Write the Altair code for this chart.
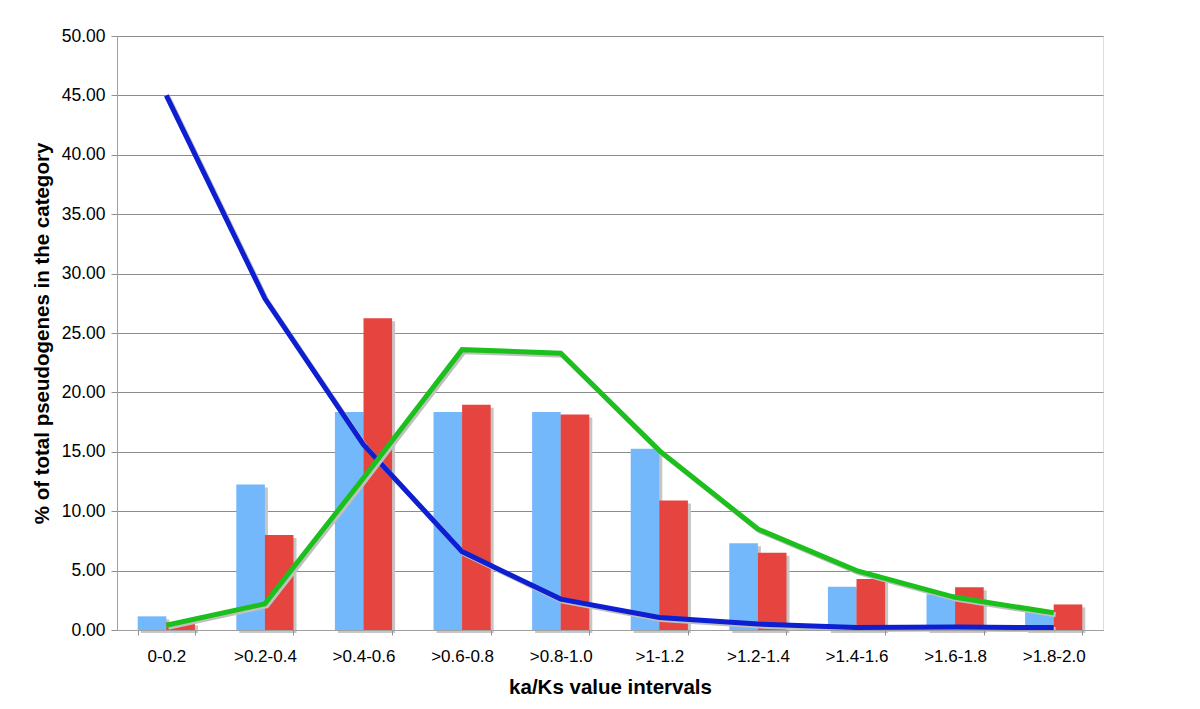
import altair as alt
import pandas as pd

categories = [
    "0-0.2", ">0.2-0.4", ">0.4-0.6", ">0.6-0.8", ">0.8-1.0",
    ">1-1.2", ">1.2-1.4", ">1.4-1.6", ">1.6-1.8", ">1.8-2.0",
]
blue_bars = [1.15, 12.25, 18.35, 18.35, 18.35, 15.25, 7.3, 3.65, 3.0, 1.6]
red_bars = [0.65, 8.0, 26.25, 18.95, 18.15, 10.9, 6.5, 4.3, 3.6, 2.15]
blue_line = [45.0, 27.9, 15.6, 6.6, 2.6, 1.05, 0.5, 0.22, 0.25, 0.2]
green_line = [0.4, 2.2, 12.8, 23.6, 23.3, 15.1, 8.5, 5.0, 2.75, 1.45]

bars_df = pd.DataFrame({
    "interval": categories * 2,
    "series": ["A"] * len(categories) + ["B"] * len(categories),
    "value": blue_bars + red_bars,
})
blue_df = pd.DataFrame({"interval": categories, "value": blue_line})
green_df = pd.DataFrame({"interval": categories, "value": green_line})

FONT = "Liberation Sans"

x_enc = alt.X(
    "interval:N",
    sort=categories,
    scale=alt.Scale(paddingInner=0.42, paddingOuter=0.21),
    axis=alt.Axis(
        title="ka/Ks value intervals",
        labelAngle=0,
        tickBand="extent",
        labelFontSize=17,
        labelPadding=13,
        tickSize=5,
        titleFontSize=20.5,
        titleFontWeight="bold",
        titlePadding=13,
        domainColor="#a0a0a0",
        tickColor="#909090",
        grid=False,
        zindex=1,
    ),
)
y_enc = alt.Y(
    "value:Q",
    scale=alt.Scale(domain=[0, 50], nice=False),
    axis=alt.Axis(
        title="% of total pseudogenes in the category",
        values=list(range(0, 51, 5)),
        format=".2f",
        labelFontSize=17.5,
        labelPadding=6,
        tickSize=6,
        titleFontSize=20.5,
        titleFontWeight="bold",
        titlePadding=9,
        domainColor="#a0a0a0",
        tickColor="#909090",
        gridColor="#8c8c8c",
        gridWidth=1,
    ),
)

color_scale = alt.Scale(domain=["A", "B"], range=["#74b8fc", "#e5443f"])

shadow_bars = alt.Chart(bars_df).mark_bar(
    color="#c6c6c6", yOffset=3, y2Offset=0
).encode(
    x=x_enc,
    y=y_enc,
    xOffset=alt.XOffset("series:N", sort=["A", "B"], scale=alt.Scale(range=[3, 60.2])),
)
bars = alt.Chart(bars_df).mark_bar().encode(
    x=x_enc,
    y=y_enc,
    xOffset=alt.XOffset("series:N", sort=["A", "B"]),
    color=alt.Color("series:N", scale=color_scale, legend=None),
)

blue_shadow = alt.Chart(blue_df).mark_line(
    color="#c0c0c0", strokeWidth=5, xOffset=2, yOffset=2
).encode(x=x_enc, y=y_enc)
blue = alt.Chart(blue_df).mark_line(color="#0d1fd1", strokeWidth=5).encode(x=x_enc, y=y_enc)
green_shadow = alt.Chart(green_df).mark_line(
    color="#c0c0c0", strokeWidth=5, xOffset=2, yOffset=2
).encode(x=x_enc, y=y_enc)
green = alt.Chart(green_df).mark_line(color="#1cc01c", strokeWidth=5).encode(x=x_enc, y=y_enc)

chart = alt.layer(
    shadow_bars, bars, blue_shadow, blue, green_shadow, green
).resolve_scale(
    xOffset="independent"
).properties(
    width=986,
    height=594,
    autosize=alt.AutoSizeParams(type="none"),
    padding={"left": 109, "top": 28, "right": 89, "bottom": 70},
).configure_view(
    stroke=None
).configure(
    font=FONT,
).configure_axis(
    labelColor="#000000",
    titleColor="#000000",
    labelFont=FONT,
    titleFont=FONT,
)

chart.save("out.html", embed_options={"renderer": "svg", "actions": False})
